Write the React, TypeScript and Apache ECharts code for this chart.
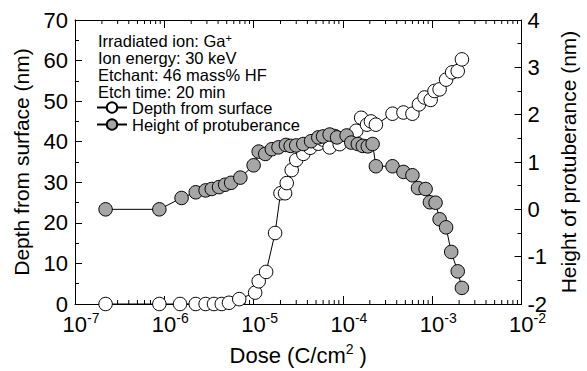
import React, { useEffect, useRef } from "react";
import * as echarts from "echarts";

const doseDepth = [2.2e-7, 8.8e-7, 1.5e-6, 2.25e-6, 2.9e-6, 3.6e-6, 4.4e-6, 5.3e-6, 6.9e-6, 1.04e-5, 1.14e-5, 1.38e-5, 1.74e-5, 2.0e-5, 2.25e-5, 2.35e-5, 2.67e-5, 3.0e-5, 3.6e-5, 4.3e-5, 5.3e-5, 6.0e-5, 7.1e-5, 8.1e-5, 9.2e-5, 1.14e-4, 1.41e-4, 1.6e-4, 1.86e-4, 2.06e-4, 2.34e-4, 3.59e-4, 4.76e-4, 6.0e-4, 7.1e-4, 8.2e-4, 9.6e-4, 1.06e-3, 1.21e-3, 1.43e-3, 1.67e-3, 1.93e-3, 2.15e-3];
const depth = [0, 0, 0, 0, 0, 0, 0, 0.3, 1.2, 2.8, 5.6, 7.9, 17.5, 27.3, 27.3, 29.8, 33.0, 35.5, 37.0, 38.5, 39.5, 40.5, 38.6, 41.4, 39.4, 41.4, 42.7, 45.9, 44.2, 45.0, 44.2, 46.9, 47.2, 46.9, 49.2, 50.9, 50.3, 52.5, 52.9, 55.3, 57.1, 57.4, 60.3];

const doseHeight = [2.2e-7, 8.8e-7, 1.56e-6, 2.25e-6, 2.9e-6, 3.4e-6, 4.1e-6, 4.8e-6, 5.6e-6, 7.1e-6, 1.0e-5, 1.14e-5, 1.35e-5, 1.6e-5, 1.9e-5, 2.3e-5, 2.6e-5, 3.0e-5, 3.6e-5, 4.4e-5, 5.3e-5, 6.0e-5, 7.1e-5, 8.6e-5, 1.1e-4, 1.24e-4, 1.47e-4, 1.67e-4, 1.9e-4, 2.15e-4, 2.34e-4, 3.59e-4, 4.76e-4, 6.0e-4, 6.93e-4, 8.43e-4, 9.42e-4, 1.09e-3, 1.21e-3, 1.43e-3, 1.63e-3, 1.93e-3, 2.15e-3];
const height = [0, 0, 0.24, 0.36, 0.40, 0.43, 0.47, 0.52, 0.56, 0.67, 0.93, 1.22, 1.17, 1.27, 1.31, 1.36, 1.34, 1.35, 1.38, 1.44, 1.52, 1.54, 1.58, 1.52, 1.56, 1.41, 1.38, 1.34, 1.33, 1.38, 0.91, 0.91, 0.79, 0.72, 0.45, 0.43, 0.15, 0.14, -0.21, -0.38, -0.90, -1.31, -1.66];

const xMinorTicks = [
  2e-7, 3e-7, 4e-7, 5e-7, 6e-7, 7e-7, 8e-7, 9e-7,
  2e-6, 3e-6, 4e-6, 5e-6, 6e-6, 7e-6, 8e-6, 9e-6,
  2e-5, 3e-5, 4e-5, 5e-5, 6e-5, 7e-5, 8e-5, 9e-5,
  2e-4, 3e-4, 4e-4, 5e-4, 6e-4, 7e-4, 8e-4, 9e-4,
  2e-3, 3e-3, 4e-3, 5e-3, 6e-3, 7e-3, 8e-3, 9e-3,
];

const annotationLines = ["Irradiated ion: Ga{s|+}", "Ion energy: 30 keV", "Etchant: 46 mass% HF", "Etch time: 20 min"];
const seriesNames = ["Depth from surface", "Height of protuberance"];

const FONT = "Liberation Sans, Arial, Helvetica, sans-serif";

export default function App() {
  const ref = useRef<HTMLDivElement>(null);
  useEffect(() => {
    if (!ref.current) return;
    const chart = echarts.init(ref.current, undefined, { renderer: "svg" });
    const xLabelRich = {
      p: { fontSize: 14, fontFamily: FONT, width: 12, lineHeight: 8 },
      b: { fontSize: 22, fontFamily: FONT, color: "#000", lineHeight: 26 },
      s: { fontSize: 14, fontFamily: FONT, color: "#000", verticalAlign: "top", lineHeight: 7 },
    };
    const option: any = {
      animation: false,
      grid: { left: 75, right: 61, top: 20, bottom: 61, containLabel: false },
      legend: {
        data: seriesNames,
        orient: "vertical",
        left: 96,
        top: 99,
        padding: 0,
        itemGap: 0,
        itemWidth: 30,
        itemHeight: 13,
        textStyle: { fontSize: 16.5, fontFamily: FONT, color: "#000", lineHeight: 16.5 },
        selectedMode: false,
      },
      graphic: [
        {
          type: "text",
          left: 98,
          top: 32,
          style: {
            text: annotationLines.join("\n"),
            fontSize: 16.5,
            lineHeight: 17,
            fontFamily: FONT,
            fill: "#000",
            rich: {
              s: { fontSize: 11, fontFamily: FONT, verticalAlign: "top", lineHeight: 8 },
            },
          },
        },
      ],
      xAxis: [
        {
          type: "log",
          logBase: 10,
          min: 1e-7,
          max: 1e-2,
          position: "bottom",
          name: "{b|Dose (C/cm}{s|2}{b| )}",
          nameLocation: "middle",
          nameGap: 38,
          nameTextStyle: { rich: xLabelRich },
          axisLine: { onZero: false, lineStyle: { color: "#000", width: 1 } },
          axisTick: { inside: true, length: 8, lineStyle: { color: "#000" } },
          splitLine: { show: false },
          axisLabel: {
            margin: 7,
            formatter: (v: number) => `{p| }{b|10}{s|${Math.round(Math.log10(v))}}`,
            rich: xLabelRich,
          },
        },
        {
          type: "log",
          logBase: 10,
          min: 1e-7,
          max: 1e-2,
          position: "top",
          axisLine: { onZero: false, lineStyle: { color: "#000", width: 1 } },
          axisTick: { inside: true, length: 8, lineStyle: { color: "#000" } },
          axisLabel: { show: false },
          splitLine: { show: false },
        },
      ],
      yAxis: [
        {
          type: "value",
          min: 0,
          max: 70,
          interval: 10,
          position: "left",
          name: "Depth from surface (nm)",
          nameLocation: "middle",
          nameGap: 43,
          nameTextStyle: { fontSize: 21, fontFamily: FONT, color: "#000" },
          axisLine: { show: true, lineStyle: { color: "#000", width: 1 } },
          axisTick: { inside: true, length: 7, lineStyle: { color: "#000" } },
          minorTick: { show: true, splitNumber: 2, length: 4, lineStyle: { color: "#000" } },
          splitLine: { show: false },
          axisLabel: { fontSize: 22, fontFamily: FONT, color: "#000", margin: 7, lineHeight: 18 },
        },
        {
          type: "value",
          min: -2,
          max: 4,
          interval: 1,
          position: "right",
          name: "Height of protuberance (nm)",
          nameLocation: "middle",
          nameGap: 36,
          nameRotate: 90,
          nameTextStyle: { fontSize: 21, fontFamily: FONT, color: "#000" },
          axisLine: { show: true, lineStyle: { color: "#000", width: 1 } },
          axisTick: { inside: true, length: 7, lineStyle: { color: "#000" } },
          minorTick: { show: true, splitNumber: 2, length: 4, lineStyle: { color: "#000" } },
          splitLine: { show: false },
          axisLabel: { fontSize: 22, fontFamily: FONT, color: "#000", margin: 6, lineHeight: 14 },
        },
      ],
      series: [
        {
          type: "custom",
          silent: true,
          xAxisIndex: 0,
          yAxisIndex: 0,
          data: xMinorTicks.map((v) => [v, 0]),
          encode: { x: 0, y: 1 },
          renderItem: (params: any, api: any) => {
            const v = api.value(0);
            const b = api.coord([v, 0]);
            const t = api.coord([v, 70]);
            const st = { stroke: "#000", lineWidth: 1 };
            return {
              type: "group",
              children: [
                { type: "line", shape: { x1: b[0], y1: b[1], x2: b[0], y2: b[1] - 4 }, style: st },
                { type: "line", shape: { x1: t[0], y1: t[1], x2: t[0], y2: t[1] + 4 }, style: st },
              ],
            };
          },
          z: 1,
        },
        {
          name: seriesNames[0],
          type: "line",
          xAxisIndex: 0,
          yAxisIndex: 0,
          data: doseDepth.map((d, i) => [d, depth[i]]),
          symbol: "circle",
          symbolSize: 13.5,
          showAllSymbol: true,
          lineStyle: { color: "#000", width: 1 },
          itemStyle: { color: "#fff", borderColor: "#000", borderWidth: 1 },
          z: 3,
        },
        {
          name: seriesNames[1],
          type: "line",
          xAxisIndex: 0,
          yAxisIndex: 1,
          data: doseHeight.map((d, i) => [d, height[i]]),
          symbol: "circle",
          symbolSize: 13.5,
          showAllSymbol: true,
          lineStyle: { color: "#000", width: 1 },
          itemStyle: { color: "#a6a6a6", borderColor: "#000", borderWidth: 1 },
          z: 4,
        },
      ],
    };
    chart.setOption(option);
    return () => chart.dispose();
  }, []);
  return <div ref={ref} style={{ width: 587, height: 371, position: "absolute", left: 0, top: 0 }} />;
}
